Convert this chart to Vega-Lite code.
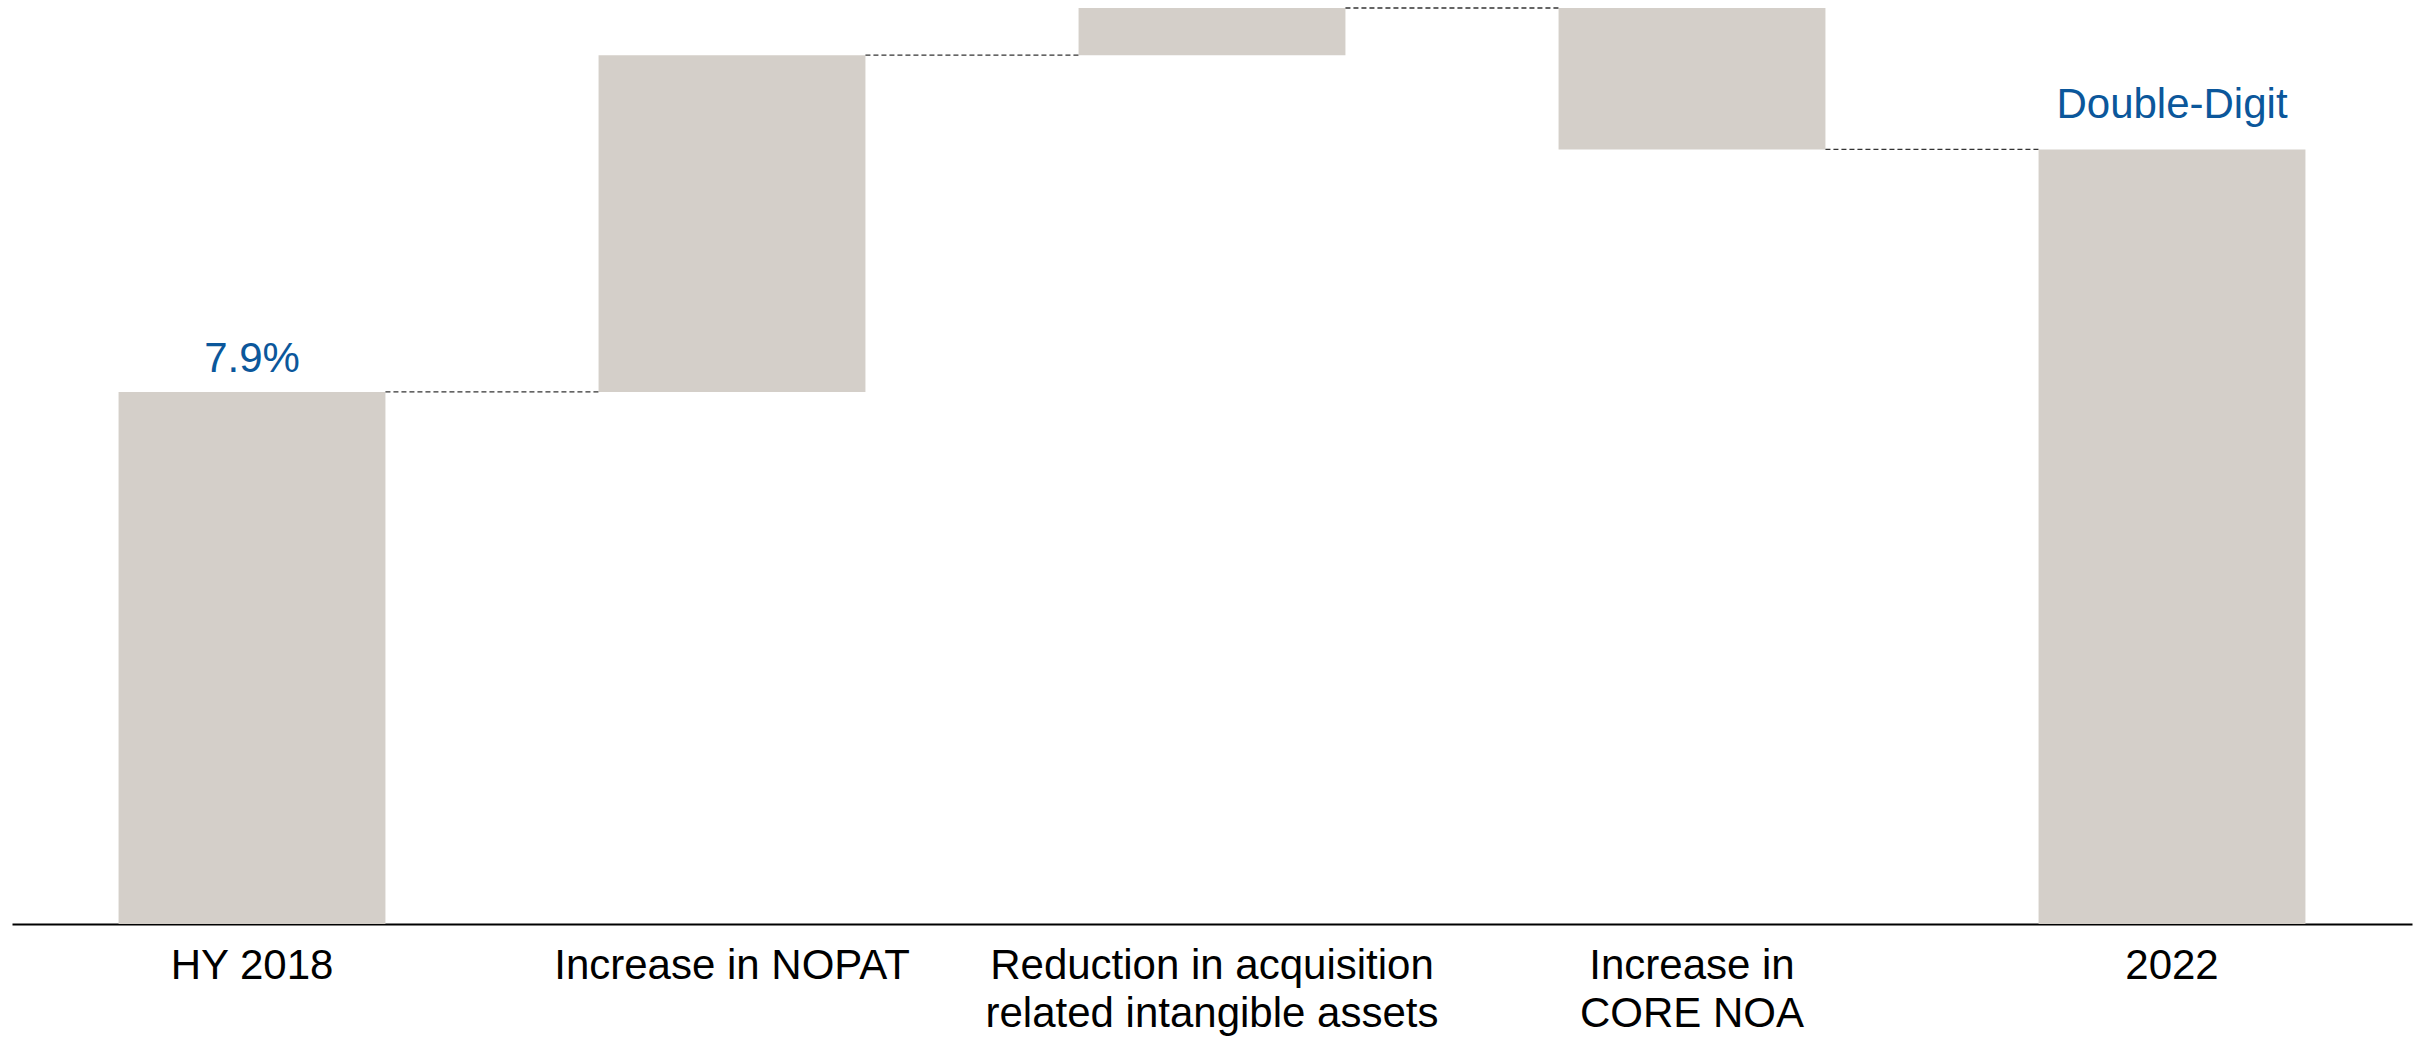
{
  "$schema": "https://vega.github.io/schema/vega-lite/v6.json",
  "autosize": {"type": "none"},
  "padding": {"left": 12, "top": 8, "right": 8, "bottom": 118},
  "width": 2400,
  "height": 916,
  "background": "white",
  "config": {"view": {"stroke": null}, "font": "Liberation Sans"},
  "datasets": {
    "bars": [
      {"cat": "HY 2018", "y0": 0, "y1": 7.9},
      {"cat": "Increase in NOPAT", "y0": 7.9, "y1": 12.9},
      {"cat": "Reduction in acquisition related intangible assets", "y0": 12.9, "y1": 13.6},
      {"cat": "Increase in CORE NOA", "y0": 13.6, "y1": 11.5},
      {"cat": "2022", "y0": 0, "y1": 11.5}
    ],
    "links": [
      {"from": "HY 2018", "to": "Increase in NOPAT", "level": 7.9},
      {"from": "Increase in NOPAT", "to": "Reduction in acquisition related intangible assets", "level": 12.9},
      {"from": "Reduction in acquisition related intangible assets", "to": "Increase in CORE NOA", "level": 13.6},
      {"from": "Increase in CORE NOA", "to": "2022", "level": 11.5}
    ],
    "labels": [
      {"cat": "HY 2018", "value": 7.9, "text": "7.9%"},
      {"cat": "2022", "value": 11.5, "text": "Double-Digit"}
    ]
  },
  "layer": [
    {
      "data": {"name": "bars"},
      "mark": {"type": "bar", "color": "#d4cfc9"},
      "encoding": {
        "x": {
          "field": "cat", "type": "nominal",
          "scale": {
            "domain": ["HY 2018", "Increase in NOPAT", "Reduction in acquisition related intangible assets", "Increase in CORE NOA", "2022"],
            "paddingInner": 0.444, "paddingOuter": 0.222
          },
          "axis": {
            "title": null, "ticks": false, "labelAngle": 0,
            "domainColor": "#000000", "domainWidth": 2,
            "labelFont": "Liberation Sans", "labelFontSize": 42, "labelColor": "#000000",
            "labelPadding": 21, "labelLineHeight": 48, "labelLimit": 1000,
            "labelBaseline": "top",
            "labelExpr": "datum.value == 'Reduction in acquisition related intangible assets' ? ['Reduction in acquisition', 'related intangible assets'] : datum.value == 'Increase in CORE NOA' ? ['Increase in', 'CORE NOA'] : datum.value"
          }
        },
        "y": {"field": "y0", "type": "quantitative", "scale": {"domain": [0, 13.6], "nice": false}, "axis": null},
        "y2": {"field": "y1"}
      }
    },
    {
      "data": {"name": "links"},
      "mark": {"type": "rule", "color": "#333333", "strokeWidth": 1.3, "strokeDash": [5, 3]},
      "encoding": {
        "x": {"field": "from", "type": "nominal", "bandPosition": 1},
        "x2": {"field": "to", "bandPosition": 0},
        "y": {"field": "level", "type": "quantitative"}
      }
    },
    {
      "data": {"name": "labels"},
      "transform": [{"filter": "datum.cat == 'HY 2018'"}],
      "mark": {"type": "text", "font": "Liberation Sans", "fontSize": 42, "color": "#0b579b", "baseline": "alphabetic", "dy": -20},
      "encoding": {
        "x": {"field": "cat", "type": "nominal", "bandPosition": 0.5},
        "y": {"field": "value", "type": "quantitative"},
        "text": {"field": "text"}
      }
    },
    {
      "data": {"name": "labels"},
      "transform": [{"filter": "datum.cat == '2022'"}],
      "mark": {"type": "text", "font": "Liberation Sans", "fontSize": 42, "color": "#0b579b", "baseline": "alphabetic", "dy": -31},
      "encoding": {
        "x": {"field": "cat", "type": "nominal", "bandPosition": 0.5},
        "y": {"field": "value", "type": "quantitative"},
        "text": {"field": "text"}
      }
    }
  ]
}
